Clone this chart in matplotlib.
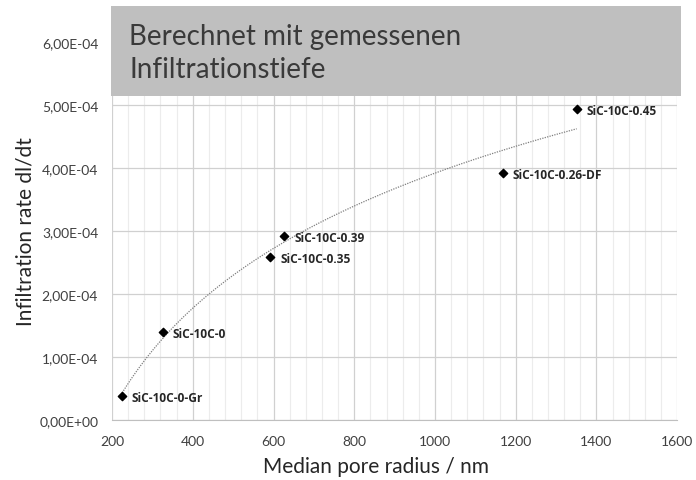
import numpy as np
import matplotlib
matplotlib.use("Agg")
import matplotlib.pyplot as plt
from matplotlib.ticker import MultipleLocator, FuncFormatter
from matplotlib.patches import Rectangle

# data
samples = ["SiC-10C-0-Gr", "SiC-10C-0", "SiC-10C-0.35", "SiC-10C-0.39",
           "SiC-10C-0.26-DF", "SiC-10C-0.45"]
pore_radius = [225, 326, 592, 627, 1169, 1351]          # nm
infil_rate = [0.38e-4, 1.40e-4, 2.59e-4, 2.92e-4, 3.92e-4, 4.93e-4]

plt.rcParams['font.family'] = ['Lato', 'DejaVu Sans']

fig = plt.figure(figsize=(6.96, 4.81), dpi=100)
ax = fig.add_axes([0.161, 0.125, 0.812, 0.786])

# log trendline (like the excel one)
a, b = np.polyfit(np.log(pore_radius), infil_rate, 1)
xs = np.linspace(min(pore_radius), max(pore_radius), 200)
ax.plot(xs, a * np.log(xs) + b, ls=(0, (1, 1)), lw=0.9, color="#7f7f7f", zorder=2)

ax.scatter(pore_radius, infil_rate, marker="D", s=18, color="black", zorder=3)

for name, x, y in zip(samples, pore_radius, infil_rate):
    ax.annotate(name, (x, y), xytext=(7, -1), textcoords="offset points",
                ha="left", va="center", fontsize=8.6, fontweight="bold",
                family=["Open Sans", "DejaVu Sans"], color="#262626", zorder=4)

ax.set_xlim(200, 1600)
ax.set_ylim(0, 6e-4)
ax.xaxis.set_major_locator(MultipleLocator(200))
ax.xaxis.set_minor_locator(MultipleLocator(40))
ax.yaxis.set_major_locator(MultipleLocator(1e-4))
ax.yaxis.set_major_formatter(FuncFormatter(lambda v, p: f"{v:.2E}".replace(".", ",")))

ax.grid(which="major", color="#d0d0d0", lw=0.9)
ax.grid(which="minor", axis="x", color="#ececec", lw=0.8)
ax.set_axisbelow(True)
for s in ["top", "right", "left"]:
    ax.spines[s].set_visible(False)
ax.spines["bottom"].set_color("#bfbfbf")
ax.tick_params(which="both", length=0, colors="#404040", labelsize=10)
ax.tick_params(axis="x", pad=11)
ax.tick_params(axis="y", pad=10)

ax.set_xlabel("Median pore radius / nm", fontsize=15, color="#262626")
ax.xaxis.set_label_coords(0.467, -0.095)
ax.set_ylabel("Infiltration rate dl/dt", fontsize=15, color="#262626", labelpad=3)

# grey caption box on top
fig.patches.append(Rectangle((0.160, 0.798), 0.818, 0.188, transform=fig.transFigure,
                             facecolor="#bfbfbf", edgecolor="none", zorder=5))
fig.text(0.186, 0.889, "Berechnet mit gemessenen\nInfiltrationstiefe", fontsize=20,
         color="#3a3a3a", va="center", ha="left", linespacing=1.3, zorder=6)

fig.savefig("out.png", dpi=100)
